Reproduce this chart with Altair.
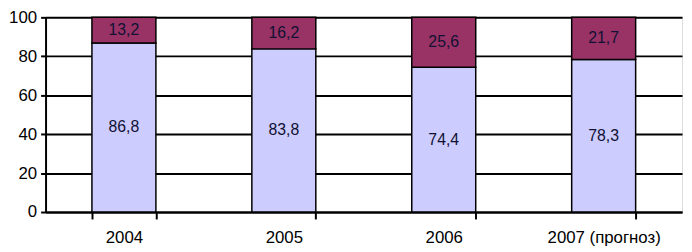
import altair as alt
import pandas as pd

years = ["2004", "2005", "2006", "2007 (прогноз)"]
bottom_vals = [86.8, 83.8, 74.4, 78.3]
top_vals = [13.2, 16.2, 25.6, 21.7]
series = ["A", "B"]
y_ticks = [0, 20, 40, 60, 80, 100]

rows = []
for i, y in enumerate(years):
    rows.append({"year": y, "series": "A", "order": 0, "value": bottom_vals[i]})
    rows.append({"year": y, "series": "B", "order": 1, "value": top_vals[i]})
df = pd.DataFrame(rows)

FONT = "Liberation Sans"

base = alt.Chart(df).transform_stack(
    stack="value", groupby=["year"], as_=["y0", "y1"], sort=[alt.SortField("order")]
).transform_calculate(
    mid="(datum.y0 + datum.y1) / 2",
    label="replace(format(datum.value, '.1f'), '.', ',')",
)

xscale = alt.Scale(paddingInner=0.6, paddingOuter=0.29)
yscale = alt.Scale(domain=[0, 100], nice=False)

xaxis = alt.Axis(
    labelAngle=0,
    labelFont=FONT,
    labelFontSize=17,
    labelColor="#000000",
    labelPadding=11,
    labelOverlap=False,
    tickBand="extent",
    tickSize=7,
    tickWidth=2,
    tickColor="#000000",
    domainColor="#000000",
    domainWidth=2,
    grid=False,
)

yaxis = alt.Axis(
    values=y_ticks,
    labelFont=FONT,
    labelFontSize=17,
    labelColor="#000000",
    labelPadding=4,
    labelOverlap=False,
    labelFlush=False,
    tickSize=5,
    tickWidth=2,
    tickColor="#000000",
    domainColor="#000000",
    domainWidth=2,
    grid=True,
    gridColor="#000000",
    gridWidth=2,
    gridOpacity=1,
)

bars = base.mark_bar(stroke="#000000", strokeWidth=1.5).encode(
    x=alt.X("year:N", sort=years, title=None, scale=xscale, axis=xaxis),
    y=alt.Y("y0:Q", title=None, scale=yscale, axis=yaxis),
    y2="y1:Q",
    color=alt.Color(
        "series:N",
        scale=alt.Scale(domain=series, range=["#CCCCFF", "#993366"]),
        legend=None,
    ),
)

texts = base.mark_text(font=FONT, fontSize=16, color="#111133", baseline="middle").encode(
    x=alt.X("year:N", sort=years, title=None, scale=xscale, axis=xaxis),
    y=alt.Y("mid:Q", title=None, scale=yscale, axis=yaxis),
    text="label:N",
)

chart = (
    alt.layer(bars, texts)
    .properties(
        width=644,
        height=197,
        autosize=alt.AutoSizeParams(type="none"),
        padding={"left": 38, "top": 8, "right": 2, "bottom": 40},
    )
    .configure_view(stroke="transparent", strokeWidth=0)
    .configure(background="#ffffff")
)

chart.save("out.html", embed_options={"renderer": "svg", "actions": False})
